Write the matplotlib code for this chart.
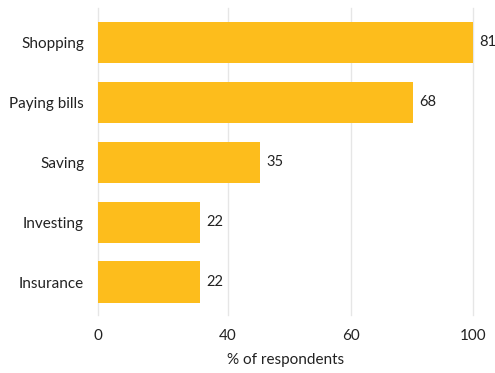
import matplotlib.pyplot as plt

# Data
categories = ["Shopping", "Paying bills", "Saving", "Investing", "Insurance"]
values = [81, 68, 35, 22, 22]

# axis ticks as printed on the chart (evenly spaced gridlines)
tick_pos = [0, 28, 54.7, 81]
tick_labels = ["0", "40", "60", "100"]

bar_color = "#FDBD1C"
text_color = "#222222"

plt.rcParams['font.family'] = ['Lato', 'DejaVu Sans']

fig = plt.figure(figsize=(4.95, 3.73), dpi=100)
ax = fig.add_axes([0.198, 0.1555, 0.7576, 0.823])

y = range(len(categories))
ax.barh(y, values, height=0.695, color=bar_color, zorder=2)

for yi, v in zip(y, values):
    ax.annotate(str(v), (v, yi), xytext=(4.5, 0), textcoords="offset points",
                va="center", ha="left", fontsize=10.5, color=text_color)

ax.set_ylim(4.545, -0.575)
ax.set_xlim(0, 81)
ax.set_yticks(list(y))
ax.set_yticklabels(categories, fontsize=11, color=text_color)
ax.set_xticks(tick_pos)
ax.set_xticklabels(tick_labels, fontsize=11, color=text_color)
ax.tick_params(axis="both", length=0)
ax.tick_params(axis="y", pad=10)
ax.tick_params(axis="x", pad=10)

ax.grid(axis="x", color="#e6e6e6", linewidth=1, zorder=0)
for gl in ax.get_xgridlines():
    gl.set_clip_on(False)
for s in ax.spines.values():
    s.set_visible(False)

ax.set_xlabel("% of respondents", fontsize=11, color=text_color, labelpad=7)

fig.savefig("out.png", dpi=100)
